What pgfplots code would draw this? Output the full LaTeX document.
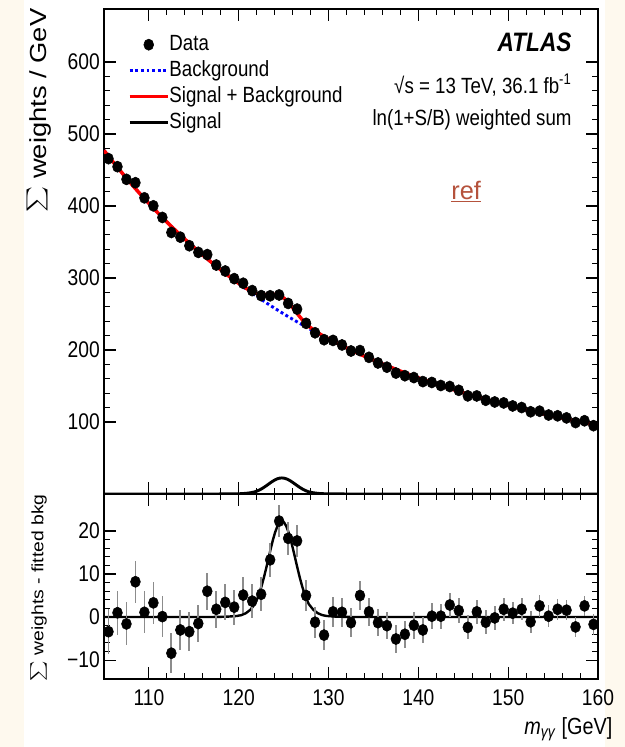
\documentclass[border=0pt]{standalone}
\usepackage{pgfplots}
\pgfplotsset{compat=1.18}
\usepackage{pgfplotstable}
\usepackage{graphicx}
\usepackage{fontspec}
\setmainfont{Liberation Sans}[FakeStretch=0.85]
\newfontfamily\plainsans{Liberation Sans}
\definecolor{cream}{RGB}{254,249,238}
\definecolor{refcol}{RGB}{181,82,60}
\definecolor{errgray}{RGB}{140,140,140}

\pgfplotsset{
  lineleg/.style={legend image code/.code={\draw[##1] (0pt,0pt) -- (28.5pt,0pt);}},
  dotleg/.style={legend image code/.code={\draw[mark repeat=2,mark phase=2,##1] plot coordinates {(0pt,0pt) (14.25pt,0pt) (28.5pt,0pt)};}},
}

\pgfplotstableread{
x y res err
105.5 465.8 -3.4 5.2
106.5 454.6 1.0 5.1
107.5 437.0 -1.6 5.0
108.5 432.3 8.2 4.9
109.5 411.3 1.1 4.9
110.5 400.2 3.3 4.8
111.5 384.1 0.1 4.7
112.5 363.2 -8.4 4.6
113.5 356.7 -3.0 4.6
114.5 344.8 -3.4 4.5
115.5 335.6 -1.5 4.4
116.5 332.5 6.0 4.3
117.5 318.0 1.8 4.3
118.5 309.7 3.4 4.2
119.5 299.1 2.3 4.1
120.5 292.7 5.1 4.1
121.5 282.5 3.7 4.0
122.5 275.5 5.3 3.9
123.5 275.3 13.3 3.9
124.5 276.4 22.3 3.8
125.5 264.7 18.3 3.8
126.5 256.8 17.7 3.7
127.5 237.0 5.0 3.7
128.5 223.9 -1.2 3.6
129.5 214.3 -4.2 3.5
130.5 213.3 1.2 3.5
131.5 207.0 1.1 3.4
132.5 198.6 -1.3 3.4
133.5 199.2 5.0 3.3
134.5 189.8 1.2 3.3
135.5 182.0 -1.3 3.2
136.5 176.1 -2.0 3.2
137.5 168.0 -5.1 3.2
138.5 164.3 -4.0 3.1
139.5 161.7 -1.9 3.1
140.5 156.1 -3.0 3.0
141.5 154.9 0.2 3.0
142.5 150.7 0.2 2.9
143.5 149.3 2.8 2.9
144.5 144.0 1.5 2.9
145.5 136.3 -2.4 2.8
146.5 136.2 1.2 2.8
147.5 130.2 -1.2 2.8
148.5 127.8 -0.2 2.7
149.5 126.5 1.8 2.7
150.5 122.3 0.9 2.6
151.5 120.1 1.8 2.6
152.5 114.2 -1.1 2.6
153.5 115.0 2.6 2.5
154.5 109.7 0.2 2.5
155.5 108.6 1.8 2.5
156.5 105.7 1.6 2.4
157.5 99.2 -2.3 2.4
158.5 101.7 2.6 2.4
159.5 94.9 -1.7 2.4
}\datatab

\pgfplotstableread{
x b
105 477.2
105.5 469.2
106.5 453.6
107.5 438.6
108.5 424.1
109.5 410.2
110.5 396.9
111.5 384.0
112.5 371.6
113.5 359.7
114.5 348.2
115.5 337.1
116.5 326.5
117.5 316.2
118.5 306.3
119.5 296.8
120.5 287.6
121.5 278.8
122.5 270.2
123.5 262.0
124.5 254.1
125.5 246.4
126.5 239.1
127.5 232.0
128.5 225.1
129.5 218.5
130.5 212.1
131.5 205.9
132.5 199.9
133.5 194.2
134.5 188.6
135.5 183.3
136.5 178.1
137.5 173.1
138.5 168.3
139.5 163.6
140.5 159.1
141.5 154.7
142.5 150.5
143.5 146.5
144.5 142.5
145.5 138.7
146.5 135.0
147.5 131.4
148.5 128.0
149.5 124.7
150.5 121.4
151.5 118.3
152.5 115.3
153.5 112.4
154.5 109.5
155.5 106.8
156.5 104.1
157.5 101.5
158.5 99.1
159.5 96.6
160 95.5
}\bkgtab

\pgfplotstableread{
x sb
105 477.2
105.5 469.2
106.5 453.6
107.5 438.6
108.5 424.1
109.5 410.2
110.5 396.9
111.5 384.0
112.5 371.6
113.5 359.7
114.5 348.2
115.5 337.1
116.5 326.5
117.5 316.2
117.8 313.24
118.8 303.55
119.8 294.25
120.3 289.89
120.8 285.86
121.3 282.26
121.8 279.24
122.05 278.22
122.3 277.48
122.55 277.03
122.8 276.91
123.05 276.98
123.3 277.17
123.55 277.36
123.8 277.49
124.05 277.34
124.3 276.77
124.55 275.71
124.8 274.09
125.05 271.86
125.3 269.03
125.55 265.72
125.8 262.07
126.05 258.15
126.3 254.09
126.55 250.04
126.8 246.14
127.05 242.44
127.3 238.98
127.55 235.81
127.8 232.95
128.3 228.18
128.8 224.02
129.3 220.27
129.8 216.83
130.8 210.34
131.8 204.14
132.5 199.9
133.5 194.2
134.5 188.6
135.5 183.3
136.5 178.1
137.5 173.1
138.5 168.3
139.5 163.6
140.5 159.1
141.5 154.7
142.5 150.5
143.5 146.5
144.5 142.5
145.5 138.7
146.5 135.0
147.5 131.4
148.5 128.0
149.5 124.7
150.5 121.4
151.5 118.3
152.5 115.3
153.5 112.4
154.5 109.5
155.5 106.8
156.5 104.1
157.5 101.5
158.5 99.1
159.5 96.6
160 95.5
}\sbtab

\pgfplotstableread{
x s
105 0
116.8 0.01
117.8 0.04
118.8 0.1
119.8 0.25
120.3 0.45
120.8 0.9
121.3 1.7
121.8 3.02
122.05 4.15
122.3 5.56
122.55 7.24
122.8 9.17
123.05 11.29
123.3 13.53
123.55 15.76
123.8 17.86
124.05 19.68
124.3 21.09
124.55 21.99
124.8 22.3
125.05 21.99
125.3 21.09
125.55 19.68
125.8 17.86
126.05 15.76
126.3 13.53
126.55 11.29
126.8 9.17
127.05 7.24
127.3 5.56
127.55 4.15
127.8 3.02
128.3 1.7
128.8 0.9
129.3 0.45
129.8 0.25
130.8 0.1
131.8 0.04
132.8 0.01
160 0
}\sigtab

\begin{document}
\begin{tikzpicture}
\useasboundingbox (0,0) rectangle (468.75pt,560.25pt);
\fill[cream] (0,0) rectangle (468.75pt,560.25pt);
\fill[white] (18pt,0) rectangle (453.75pt,560.25pt);

\pgfplotsset{
  ratlas/.style={
    scale only axis,
    anchor=south west,
    width=370.5pt,
    xmin=105, xmax=160,
    axis line style={line width=0.9pt},
    tick align=inside,
    tick pos=both,
    major tick length=9pt,
    minor tick length=4.5pt,
    tick style={black, line width=0.8pt},
    tick label style={font=\fontsize{17}{20}\selectfont},
    /pgf/number format/assume math mode=true,
    xtick={110,120,...,160},
    minor x tick num=4,
    minor y tick num=4,
    yticklabel style={inner sep=0pt, xshift=-3pt},
    xticklabel style={yshift=-4.5pt},
  }
}

% ---------------- top panel ----------------
\begin{axis}[ratlas,
  at={(78pt,189.75pt)},
  height=363.75pt,
  ymin=0, ymax=673.6,
  ytick={100,200,...,600},
  xticklabels={},
  legend style={draw=none, fill=none, at={(rel axis cs:0.0486,0.947)}, anchor=north west,
    inner sep=0pt, outer sep=0pt, font=\fontsize{16.5}{19}\selectfont, row sep=4.5pt,
    nodes={inner sep=0pt, text height=12pt, text depth=3pt},
    /tikz/every even column/.append style={column sep=5pt}},
  legend cell align=left,
]
\addlegendimage{only marks, mark=*, mark size=4.2pt, mark options={xscale=0.88, fill=black, draw=black}, dotleg}
\addlegendentry{Data}
\addlegendimage{blue, line width=2.2pt, dash pattern=on 2.2pt off 2pt, lineleg}
\addlegendentry{Background}
\addlegendimage{red, line width=2.6pt, lineleg}
\addlegendentry{Signal + Background}
\addlegendimage{black, line width=2.2pt, lineleg}
\addlegendentry{Signal}

\addplot[blue, line width=2.2pt, dash pattern=on 2.2pt off 2pt, forget plot] table[x=x,y=b] {\bkgtab};
\addplot[red, line width=2.6pt, forget plot] table[x=x,y=sb] {\sbtab};
\addplot[black, line width=2.2pt, forget plot] table[x=x,y=s] {\sigtab};
\addplot[only marks, mark=*, mark size=4.2pt, mark options={xscale=0.88, fill=black, draw=black}, forget plot,
  error bars/.cd, y dir=both, y explicit, error bar style={black, line width=1pt}, error mark=none]
  table[x=x, y=y, y error=err] {\datatab};

\node[anchor=east, inner sep=0pt, font=\fontsize{20}{24}\selectfont\bfseries\itshape] at (rel axis cs:0.947,0.932) {ATLAS};
\node[anchor=east, inner sep=0pt, font=\fontsize{16.5}{19}\selectfont] at (rel axis cs:0.947,0.843) {√s = 13 TeV, 36.1 fb\textsuperscript{-1}};
\node[anchor=east, inner sep=0pt, font=\fontsize{16.5}{19}\selectfont] at (rel axis cs:0.947,0.771) {ln(1+S/B) weighted sum};
\node[inner sep=0pt, text=refcol, font=\plainsans\fontsize{19}{22}\selectfont] at (rel axis cs:0.733,0.623) {\underline{ref}};
\end{axis}

% ---------------- bottom panel ----------------
\begin{axis}[ratlas,
  at={(78pt,51pt)},
  height=138.75pt,
  ymin=-14.4, ymax=28.6,
  ytick={-10,0,10,20},
  yticklabels={−10,0,10,20},
  xlabel={\textit{m}\textsubscript{\textit{γγ}} [GeV]},
  xlabel style={at={(rel axis cs:1,0)}, anchor=north east, inner sep=0pt, yshift=-28.5pt, xshift=11pt, font=\fontsize{17.5}{20}\selectfont},
]
\addplot[black, line width=1.8pt] table[x=x,y=s] {\sigtab};
\addplot[only marks, mark=*, mark size=4.2pt, mark options={xscale=0.88, fill=black, draw=black},
  error bars/.cd, y dir=both, y explicit, error bar style={errgray, line width=1.3pt}, error mark=none]
  table[x=x, y=res, y error=err] {\datatab};
\end{axis}

% axis titles (vertical)
\node[rotate=90, anchor=south east, inner sep=0pt] at (39pt,554pt)
  {\scalebox{1}[0.85]{\plainsans\fontsize{20.5}{24}\selectfont\raisebox{-1pt}{\scalebox{1.85}{$\sum$}} weights / GeV}};
\node[rotate=90, anchor=south east, inner sep=0pt] at (35.25pt,189.75pt)
  {\scalebox{1}[0.85]{\plainsans\fontsize{14.5}{18}\selectfont\raisebox{-1pt}{\scalebox{1.45}{$\sum$}} weights - fitted bkg}};
\end{tikzpicture}
\end{document}
